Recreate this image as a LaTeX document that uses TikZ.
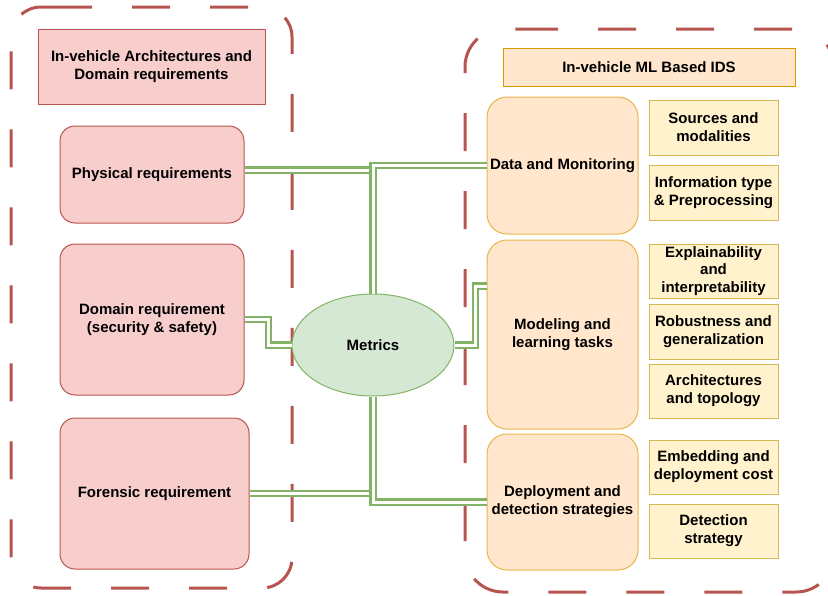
\documentclass[tikz,border=0pt]{standalone}
\usepackage{fontspec}
\setmainfont{Liberation Sans}
\usetikzlibrary{shapes.geometric}
\definecolor{redS}{HTML}{B85450}
\definecolor{redF}{HTML}{F8CECC}
\definecolor{orS}{HTML}{D79B00}
\definecolor{orS2}{HTML}{E8B54A}
\definecolor{orF}{HTML}{FFE6CC}
\definecolor{yeS}{HTML}{D6B656}
\definecolor{yeF}{HTML}{FFF2CC}
\definecolor{grS}{HTML}{82B366}
\definecolor{grF}{HTML}{D5E8D4}
\begin{document}
\begin{tikzpicture}[x=1pt,y=-1pt,
  every node/.style={font=\bfseries\fontsize{15}{17.8}\selectfont, align=center, inner sep=0pt},
  cont/.style={draw=redS, line width=3pt, dash pattern=on 38pt off 40pt},
  redbox/.style={draw=redS, fill=redF, line width=1pt, rectangle},
  redround/.style={redbox, rounded corners=15pt},
  ortitle/.style={draw=orS, fill=orF, line width=1pt, rectangle},
  orround/.style={draw=orS2, fill=orF, line width=1pt, rectangle, rounded corners=20pt},
  ybox/.style={draw=yeS, fill=yeF, line width=1pt, rectangle, minimum width=129pt},
  link/.style={draw=grS, line width=2.3pt, double=white, double distance=3pt}
]
\useasboundingbox (0,0) rectangle (828,595);
% containers
\draw[cont, rounded corners=30pt] (54,7) -- (292,7) -- (292,588) -- (11,588) -- (11,7) -- (54,7);
\draw[cont, rounded corners=38pt] (520,29) -- (834,29) -- (834,592) -- (465,592) -- (465,29) -- (520,29);
% left side
\node[redbox, minimum width=227pt, minimum height=75pt] (ltitle) at (151.5,66.5) {In-vehicle Architectures and\\Domain requirements};
\node[redround, minimum width=184pt, minimum height=97pt] (phys) at (152,174.5) {Physical requirements};
\node[redround, minimum width=184pt, minimum height=151pt] (dom) at (152,319.5) {Domain requirement\\(security \& safety)};
\node[redround, minimum width=189pt, minimum height=151pt] (for) at (154.5,493.5) {Forensic requirement};
% metrics
\node[ellipse, draw=grS, fill=grF, line width=1pt, minimum width=162pt, minimum height=102pt] (met) at (373,345) {Metrics};
% right side
\node[ortitle, minimum width=292pt, minimum height=38pt] (rtitle) at (649,67) {In-vehicle ML Based IDS};
\node[orround, minimum width=151pt, minimum height=137pt] (data) at (562.5,165.5) {Data and Monitoring};
\node[orround, minimum width=151pt, minimum height=189pt] (mod) at (562.5,334.5) {Modeling and\\learning tasks};
\node[orround, minimum width=151pt, minimum height=136pt] (dep) at (562.5,502) {Deployment and\\detection strategies};
\node[ybox, minimum height=55pt] (src) at (713.5,127.5) {Sources and\\modalities};
\node[ybox, minimum height=55pt] (info) at (713.5,192.5) {Information type\\\& Preprocessing};
\node[ybox, minimum height=54pt] (expl) at (713.5,271) {Explainability\\and\\interpretability};
\node[ybox, minimum height=55pt] (rob) at (713.5,331.5) {Robustness and\\generalization};
\node[ybox, minimum height=54pt] (arch) at (713.5,391) {Architectures\\and topology};
\node[ybox, minimum height=54pt] (emb) at (713.5,467) {Embedding and\\deployment cost};
\node[ybox, minimum height=54pt] (det) at (713.5,531) {Detection\\strategy};
% connectors
\draw[link] ([yshift=4.5pt]phys.east) -| (met.north);
\draw[link] (met.north) |- (data.west);
\draw[link] (for.east) -| (met.south);
\draw[link] (met.south) |- (dep.west);
\draw[link] (dom.east) -- ++(24,0) |- (met.west);
\draw[link] (met.east) -- ++(21,0) |- ([yshift=48.5pt]mod.west);
\end{tikzpicture}
\end{document}
